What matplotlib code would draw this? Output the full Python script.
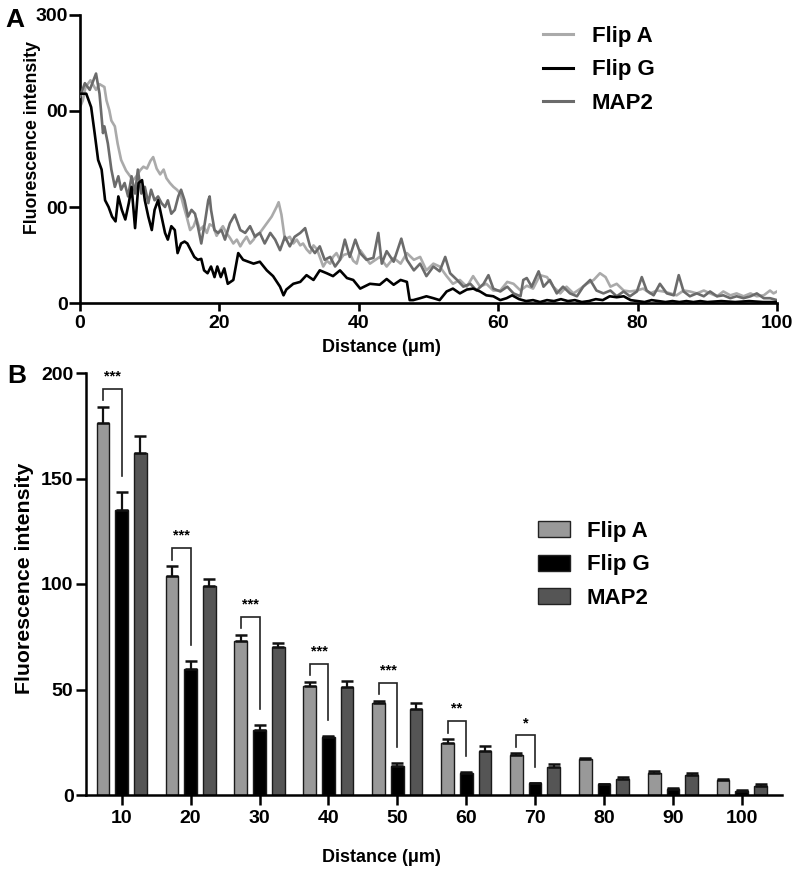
import matplotlib
matplotlib.use("Agg")
import matplotlib.pyplot as plt
from matplotlib.lines import Line2D
from matplotlib.patches import Patch
import numpy as np

plt.rcParams['font.family'] = ['Liberation Sans', 'DejaVu Sans']

# ---------------- Panel A data (profiles) ----------------
flipA_x = [0, 0.4, 0.8, 1.5, 2.3, 2.8, 3.5, 3.8, 4.2, 4.5, 5.0, 5.4, 5.9, 6.6, 7.6, 8.1, 8.6, 9.1,
           9.6, 10.1, 10.5, 11.0, 11.5, 12.0, 12.4, 12.9, 13.4, 13.9, 14.4, 14.9, 15.3, 15.8, 16.3,
           16.7, 17.2, 17.7, 18.2, 18.6, 19.1, 19.6, 20.1, 20.5, 21.0, 21.5, 22.0, 22.5, 23.0, 23.4,
           23.9, 24.4, 24.9, 25.3, 25.8, 26.3, 26.8, 27.5, 28.2, 28.5, 28.9, 29.4, 30.1, 30.6, 31.1,
           31.6, 32.0, 32.5, 33.0, 33.5, 34.0, 34.9, 35.4, 35.9, 36.3, 36.8, 37.3, 37.8, 38.7, 39.2,
           39.7, 40.2, 41.6, 43.0, 44.0, 45.0, 46.0, 46.9, 47.9, 48.8, 49.7, 50.7, 51.6, 52.6, 53.5,
           54.5, 55.5, 56.4, 57.4, 58.3, 59.3, 60.3, 61.3, 62.2, 63.2, 64.1, 65.0, 66.0, 67.0, 67.9,
           68.9, 69.8, 70.8, 71.8, 72.7, 73.7, 74.6, 75.4, 76.1, 77.0, 78.0, 78.9, 79.9, 80.8, 81.8,
           82.8, 83.7, 84.7, 85.6, 86.6, 87.5, 88.5, 89.5, 90.4, 91.4, 92.3, 93.3, 94.2, 95.2, 96.2,
           97.1, 98.1, 99.0, 99.5, 100]
flipA_y = [204, 211, 225, 232, 222, 228, 225, 211, 201, 190, 184, 166, 149, 138, 128, 132, 138, 142,
           140, 148, 152, 140, 134, 139, 130, 125, 121, 118, 114, 100, 90, 76, 80,
           88, 76, 80, 73, 82, 80, 70, 76, 80, 73, 68, 62, 66, 59, 64,
           69, 62, 66, 71, 73, 78, 83, 90, 100, 105, 92, 66, 69, 62, 66,
           60, 62, 56, 52, 60, 56, 38, 44, 41, 48, 52, 45, 50, 52, 44,
           41, 55, 41, 48, 38, 47, 41, 52, 45, 48, 34, 41, 38, 28, 20,
           24, 17, 28, 17, 20, 13, 13, 22, 20, 13, 18, 15, 29, 27, 17,
           10, 17, 10, 15, 20, 24, 31, 27, 17, 20, 13, 12, 13, 15, 10,
           13, 12, 10, 8, 13, 12, 10, 13, 10, 7, 12, 8, 10, 7, 10,
           7, 8, 13, 10, 12]

flipG_x = [0, 0.9, 1.6, 2.1, 2.6, 3.1, 3.6, 4.1, 4.6, 5.1, 5.5, 6.0, 6.5, 7.0, 7.4, 7.9, 8.4, 8.9,
           9.3, 9.8, 10.3, 10.7, 11.2, 11.7, 12.2, 12.6, 13.1, 13.6, 14.0, 14.5, 15.0, 15.4, 15.9,
           16.4, 16.9, 17.4, 17.8, 18.3, 18.8, 19.3, 19.7, 20.2, 20.7, 21.2, 22.0, 22.7, 23.4, 24.9,
           25.8, 26.8, 27.7, 28.7, 29.2, 29.6, 30.6, 31.6, 32.5, 33.5, 34.4, 35.4, 36.3, 37.3, 38.3,
           39.2, 40.2, 41.6, 43.0, 44.0, 45.0, 46.0, 46.9, 47.3, 47.8, 48.8, 49.7, 50.7, 51.6, 52.6,
           53.5, 54.5, 55.5, 56.4, 57.4, 58.3, 59.3, 60.3, 61.2, 62.0, 63, 64, 65, 66, 67, 68, 69,
           70, 71, 72, 73, 74, 75, 76, 77, 78, 79, 80, 81, 82, 83, 84, 85, 86, 87, 88, 89, 90, 92,
           94, 96, 98, 100]
flipG_y = [218, 218, 204, 177, 149, 139, 107, 100, 90, 85, 111, 97, 87, 104, 121, 78, 125, 128,
           107, 90, 76, 97, 107, 90, 73, 66, 80, 76, 52, 62, 64, 62, 55,
           48, 45, 46, 34, 31, 38, 27, 38, 27, 36, 20, 24, 52, 45, 41,
           43, 34, 28, 17, 8, 14, 20, 22, 29, 24, 34, 31, 28, 34, 26,
           24, 15, 20, 19, 25, 19, 24, 22, 3, 3, 5, 7, 5, 3, 12,
           15, 10, 14, 15, 12, 8, 7, 3, 5, 8, 4, 2, 3, 1, 3, 2, 4,
           2, 3, 1, 2, 4, 3, 7, 6, 7, 3, 2, 1, 3, 2, 1, 2, 1, 2, 1, 2, 1, 2,
           1, 2, 1, 1]

map2_x = [0, 0.7, 1.4, 2.3, 2.8, 3.3, 3.5, 4.0, 4.5, 5.0, 5.5, 5.9, 6.4, 6.9, 7.4, 7.9, 8.3, 8.8,
          9.3, 9.8, 10.2, 10.7, 11.2, 11.7, 12.2, 12.6, 13.1, 13.6, 14.1, 14.5, 15.0, 15.5, 16.0,
          16.5, 16.9, 17.4, 17.9, 18.4, 18.6, 18.8, 19.3, 19.8, 20.3, 20.8, 21.5, 22.2, 23.0, 23.7,
          24.4, 25.1, 25.8, 26.5, 27.3, 28.0, 28.7, 29.4, 30.1, 30.8, 31.6, 32.3, 33.0, 33.7, 34.4,
          35.1, 35.9, 36.6, 37.3, 38.0, 38.7, 39.5, 40.2, 41.1, 42.1, 42.8, 43.3, 44.0, 45.0, 46.1,
          46.9, 47.9, 48.8, 49.7, 50.7, 51.6, 52.4, 53.1, 54.1, 55.0, 56.0, 56.9, 57.9, 58.6, 59.3,
          60.3, 61.3, 62.2, 63.2, 63.6, 64.1, 64.8, 65.8, 66.5, 67.4, 68.4, 69.3, 70.3, 71.3, 72.2,
          73.2, 74.1, 75.1, 76.1, 77.0, 78.0, 78.9, 79.9, 80.6, 81.3, 82.3, 83.2, 84.2, 85.2, 85.9,
          86.6, 87.5, 88.5, 89.5, 90.4, 91.4, 92.3, 93.3, 94.2, 95.2, 96.2, 97.1, 98.1, 99.0, 100]
map2_y = [215, 229, 222, 239, 218, 177, 184, 166, 139, 121, 132, 118, 125, 111, 132, 114, 139, 114,
          121, 104, 118, 107, 111, 104, 100, 107, 93, 97, 111, 118, 107, 90, 97,
          93, 80, 62, 83, 107, 111, 97, 76, 73, 76, 66, 83, 92, 76, 73,
          80, 69, 73, 62, 73, 66, 55, 69, 59, 69, 73, 78, 59, 52, 59,
          45, 48, 38, 45, 66, 48, 66, 52, 45, 47, 73, 41, 54, 43, 67,
          45, 34, 41, 28, 38, 33, 48, 31, 24, 17, 20, 13, 20, 29, 15,
          12, 17, 10, 7, 24, 26, 17, 33, 17, 24, 10, 17, 10, 7, 17,
          24, 13, 10, 13, 7, 12, 7, 12, 27, 13, 8, 20, 10, 8, 29,
          12, 7, 10, 7, 12, 7, 8, 5, 7, 5, 7, 10, 5, 5, 3]

a_yticks = [0, 100, 200, 300]
a_yticklabels = ['0', '00', '00', '300']
a_xticks = [0, 20, 40, 60, 80, 100]

# ---------------- Panel B data (bars) ----------------
distances = ['10', '20', '30', '40', '50', '60', '70', '80', '90', '100']
flipA_mean = [176.4, 103.8, 73.1, 51.7, 43.4, 24.5, 19.0, 16.9, 10.6, 7.0]
flipA_err = [7.6, 4.7, 2.9, 2.0, 1.3, 2.0, 0.7, 0.8, 0.8, 0.6]
flipG_mean = [135.0, 59.6, 30.8, 27.3, 13.7, 10.3, 5.5, 5.0, 3.0, 2.0]
flipG_err = [8.6, 3.9, 2.5, 0.8, 1.6, 0.5, 0.3, 0.3, 0.3, 0.3]
map2_mean = [162.0, 99.2, 70.1, 51.3, 40.9, 20.9, 13.1, 7.7, 9.3, 4.4]
map2_err = [8.0, 3.2, 2.1, 2.7, 2.8, 2.3, 1.4, 0.8, 1.1, 0.8]
significance = ['***', '***', '***', '***', '***', '**', '*']

names = ['Flip A', 'Flip G', 'MAP2']
line_colors = ['#aaaaaa', '#000000', '#6b6b6b']
bar_colors = ['#999999', '#000000', '#555555']

W, H = 800, 874
fig = plt.figure(figsize=(W / 100, H / 100), dpi=100)

def px(x0, y0, x1, y1):
    return [x0 / W, 1 - y1 / H, (x1 - x0) / W, (y1 - y0) / H]

# ---------------- Panel A ----------------
axA = fig.add_axes(px(80, 15, 777, 303))
axA.plot(flipA_x, flipA_y, color=line_colors[0], lw=1.9, zorder=2, label=names[0])
axA.plot(map2_x, map2_y, color=line_colors[2], lw=1.9, zorder=3, label=names[2])
axA.plot(flipG_x, flipG_y, color=line_colors[1], lw=1.9, zorder=4, label=names[1])
axA.set_xlim(0, 100)
axA.set_ylim(0, 300)
axA.set_yticks(a_yticks)
axA.set_yticklabels(a_yticklabels)
axA.set_xticks(a_xticks)
for s in ['top', 'right']:
    axA.spines[s].set_visible(False)
for s in ['left', 'bottom']:
    axA.spines[s].set_linewidth(1.9)
axA.tick_params(axis='y', direction='out', length=8, width=1.9, pad=1, labelsize=14)
axA.tick_params(axis='x', direction='out', length=6, width=1.9, pad=3, labelsize=14)
for lab in axA.get_xticklabels() + axA.get_yticklabels():
    lab.set_fontweight('bold')

hA = [Line2D([0], [0], color=line_colors[i], lw=2.2) for i in range(3)]
fig.legend(hA, names, loc='upper left', bbox_to_anchor=(543 / W, 1 - 26 / H),
           frameon=False, borderpad=0, borderaxespad=0, handlelength=1.35,
           handletextpad=0.85, labelspacing=0.56,
           prop={'weight': 'bold', 'size': 16})

fig.text(33 / W, 1 - 138 / H, 'Fluorescence intensity', rotation=90, ha='center',
         va='center', fontsize=12.8, fontweight='bold')
fig.text(381 / W, 1 - 347 / H, 'Distance (\u03bcm)', ha='center', va='center',
         fontsize=13, fontweight='bold')
fig.text(5 / W, 1 - 27 / H, 'A', fontsize=19, fontweight='bold', ha='left', va='baseline')

# ---------------- Panel B ----------------
axB = fig.add_axes(px(86, 373, 782, 795))
xpos = np.arange(len(distances))
off = 0.271
bw = 0.184
means = [flipA_mean, flipG_mean, map2_mean]
errs = [flipA_err, flipG_err, map2_err]
for k in range(3):
    xs = xpos + (k - 1) * off
    axB.bar(xs, means[k], width=bw, color=bar_colors[k], edgecolor='#1a1a1a',
            linewidth=1.0, zorder=2)
    axB.errorbar(xs, means[k], yerr=[np.zeros(len(xs)), errs[k]], fmt='none',
                 ecolor='#111111', elinewidth=1.6, capsize=4.5, capthick=1.8, zorder=3)

for i, lab in enumerate(significance):
    xa = xpos[i] - off
    xg = xpos[i]
    topA = flipA_mean[i] + flipA_err[i]
    topG = flipG_mean[i] + flipG_err[i]
    yb = topA + 8.5
    axB.plot([xa, xa, xg, xg], [topA + 3, yb, yb, topG + 7.5], color='#222222',
             lw=1.2, zorder=4, solid_joinstyle='miter')
    axB.text((xa + xg) / 2, yb + 4, lab, ha='center', va='baseline',
             fontsize=10.5, fontweight='bold')

axB.set_xlim(-0.518, 9.583)
axB.set_ylim(0, 200)
axB.set_xticks(xpos)
axB.set_xticklabels(distances)
axB.set_yticks([0, 50, 100, 150, 200])
for s in ['top', 'right']:
    axB.spines[s].set_visible(False)
for s in ['left', 'bottom']:
    axB.spines[s].set_linewidth(1.8)
axB.tick_params(axis='y', direction='out', length=7, width=1.8, pad=2, labelsize=14)
axB.tick_params(axis='x', direction='out', length=7, width=1.8, pad=4, labelsize=14)
for lab in axB.get_xticklabels() + axB.get_yticklabels():
    lab.set_fontweight('bold')

hB = [Patch(facecolor=bar_colors[i], edgecolor='#222222', linewidth=1.0) for i in range(3)]
fig.legend(hB, names, loc='upper left', bbox_to_anchor=(538 / W, 1 - 521 / H),
           frameon=False, borderpad=0, borderaxespad=0, handlelength=1.45,
           handleheight=0.75, handletextpad=0.75, labelspacing=0.56,
           prop={'weight': 'bold', 'size': 16})

fig.text(25 / W, 1 - 578 / H, 'Fluorescence intensity', rotation=90, ha='center',
         va='center', fontsize=15.3, fontweight='bold')
fig.text(381 / W, 1 - 858 / H, 'Distance (\u03bcm)', ha='center', va='center',
         fontsize=13, fontweight='bold')
fig.text(7 / W, 1 - 383 / H, 'B', fontsize=19, fontweight='bold', ha='left', va='baseline')

fig.savefig('out.png', dpi=100)
